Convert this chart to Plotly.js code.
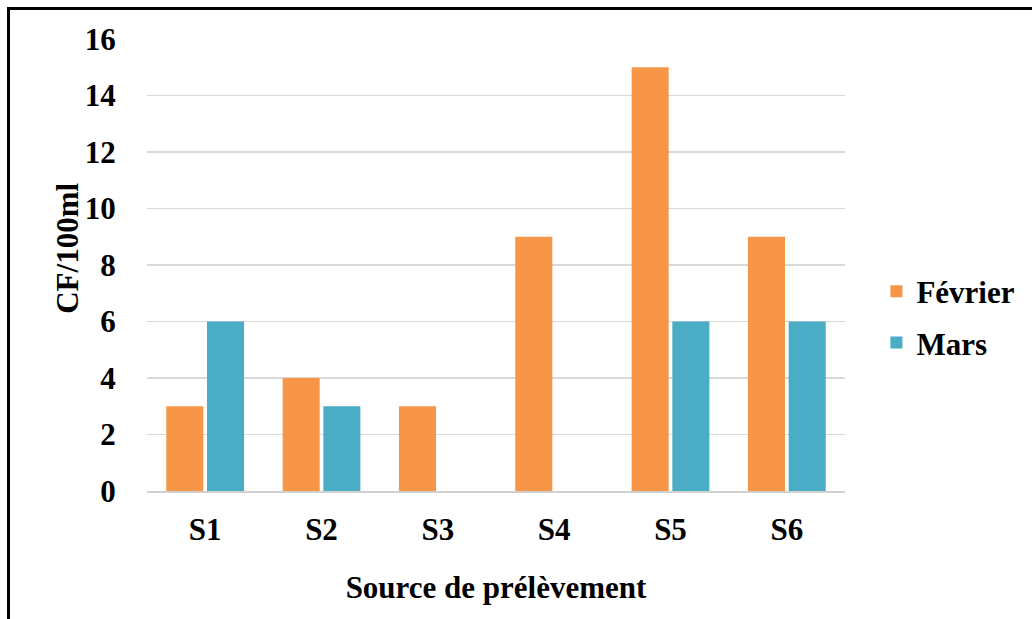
<!DOCTYPE html>
<html>
<head>
<meta charset="utf-8">
<script src="https://cdn.plot.ly/plotly-3.0.1.min.js"></script>
<style>
  html, body { margin: 0; padding: 0; background: #fff; }
  #wrap { position: relative; width: 1032px; height: 619px; overflow: hidden; }
  #chart { position: absolute; left: 0; top: 0; width: 1032px; height: 619px; }
  #frame { position: absolute; left: 7px; top: 7px; width: 1040px; height: 640px;
           border-top: 3px solid #000; border-left: 3px solid #000; pointer-events: none; }
</style>
</head>
<body>
<div id="wrap">
  <div id="chart"></div>
  <div id="frame"></div>
</div>
<script>
const categories = ["S1", "S2", "S3", "S4", "S5", "S6"];
const fevrier = [3, 4, 3, 9, 15, 9];
const mars = [6, 3, 0, 0, 6, 6];
const seriesNames = ["Février", "Mars"];
const yTicks = [0, 2, 4, 6, 8, 10, 12, 14, 16];
const xTitle = "Source de prélèvement";
const yTitle = "CF/100ml";

const fam = "Liberation Serif";
const boldFont = { family: fam, size: 31, color: "#000", weight: "bold" };

const traces = [
  {
    type: "bar", name: seriesNames[0], x: categories, y: fevrier,
    legendgroup: "a",
    marker: { color: "#F79646", line: { width: 0 } }
  },
  {
    type: "bar", name: seriesNames[1], x: categories, y: mars,
    legendgroup: "b",
    marker: { color: "#4BACC6", line: { width: 0 } }
  }
];

const layout = {
  width: 1032, height: 619,
  margin: { l: 147, r: 180, t: 39, b: 128 },
  paper_bgcolor: "#fff", plot_bgcolor: "#fff",
  font: { family: fam, size: 31, color: "#000" },
  barmode: "group",
  bargap: 0.30,
  bargroupgap: 0.09,
  showlegend: true,
  legend: {
    x: 1.045, y: 0.385, xanchor: "left", yanchor: "middle",
    font: boldFont,
    traceorder: "grouped", tracegroupgap: 8,
    itemwidth: 30, bgcolor: "rgba(0,0,0,0)"
  },
  xaxis: {
    type: "category",
    tickfont: boldFont,
    ticks: "outside", ticklen: 10, tickcolor: "rgba(0,0,0,0)",
    showgrid: false,
    showline: true, linecolor: "#D0D0D0", linewidth: 1.5,
    title: { text: xTitle, standoff: 30, font: boldFont }
  },
  yaxis: {
    range: [0, 16],
    tickvals: yTicks,
    ticktext: yTicks.map(String),
    tickfont: boldFont,
    ticks: "outside", ticklen: 24, tickcolor: "rgba(0,0,0,0)",
    showgrid: true, gridcolor: "#D9D9D9", gridwidth: 1.2,
    zeroline: false, showline: false
  },
  annotations: [
    {
      text: yTitle, textangle: -90, showarrow: false,
      xref: "paper", yref: "paper",
      x: (66 - 147) / 705, y: (491 - 248) / 452,
      xanchor: "center", yanchor: "middle",
      font: boldFont
    }
  ]
};

Plotly.newPlot("chart", traces, layout, { displayModeBar: false, staticPlot: true });
</script>
</body>
</html>
